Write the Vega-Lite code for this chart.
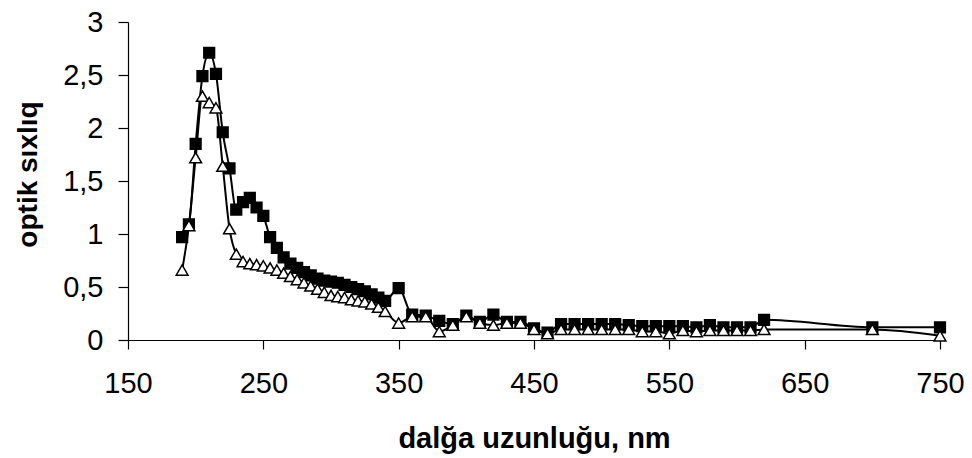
{
  "$schema": "https://vega.github.io/schema/vega-lite/v6.json",
  "width": 812,
  "height": 318,
  "autosize": {"type": "none"},
  "padding": {"left": 128, "top": 22, "right": 32, "bottom": 118},
  "background": "white",
  "config": {
    "view": {"stroke": null},
    "font": "Liberation Sans",
    "axis": {"grid": false, "domainColor": "black", "tickColor": "black", "labelColor": "black", "titleColor": "black", "domainWidth": 1.2, "tickWidth": 1.2}
  },
  "datasets": {
    "spectra": [
      {"nm":190,"series":"A","od":0.97},{"nm":195,"series":"A","od":1.09},{"nm":200,"series":"A","od":1.85},{"nm":205,"series":"A","od":2.49},{"nm":210,"series":"A","od":2.71},{"nm":215,"series":"A","od":2.51},{"nm":220,"series":"A","od":1.96},{"nm":225,"series":"A","od":1.62},{"nm":230,"series":"A","od":1.23},{"nm":235,"series":"A","od":1.30},{"nm":240,"series":"A","od":1.34},{"nm":245,"series":"A","od":1.25},{"nm":250,"series":"A","od":1.17},{"nm":255,"series":"A","od":0.97},{"nm":260,"series":"A","od":0.87},{"nm":265,"series":"A","od":0.78},{"nm":270,"series":"A","od":0.72},{"nm":275,"series":"A","od":0.68},{"nm":280,"series":"A","od":0.64},{"nm":285,"series":"A","od":0.61},{"nm":290,"series":"A","od":0.58},{"nm":295,"series":"A","od":0.56},{"nm":300,"series":"A","od":0.55},{"nm":305,"series":"A","od":0.54},{"nm":310,"series":"A","od":0.52},{"nm":315,"series":"A","od":0.50},{"nm":320,"series":"A","od":0.48},{"nm":325,"series":"A","od":0.46},{"nm":330,"series":"A","od":0.43},{"nm":335,"series":"A","od":0.40},{"nm":340,"series":"A","od":0.37},{"nm":350,"series":"A","od":0.49},{"nm":360,"series":"A","od":0.24},{"nm":370,"series":"A","od":0.23},{"nm":380,"series":"A","od":0.18},{"nm":390,"series":"A","od":0.15},{"nm":400,"series":"A","od":0.23},{"nm":410,"series":"A","od":0.17},{"nm":420,"series":"A","od":0.24},{"nm":430,"series":"A","od":0.17},{"nm":440,"series":"A","od":0.17},{"nm":450,"series":"A","od":0.11},{"nm":460,"series":"A","od":0.07},{"nm":470,"series":"A","od":0.15},{"nm":480,"series":"A","od":0.15},{"nm":490,"series":"A","od":0.15},{"nm":500,"series":"A","od":0.15},{"nm":510,"series":"A","od":0.15},{"nm":520,"series":"A","od":0.14},{"nm":530,"series":"A","od":0.13},{"nm":540,"series":"A","od":0.13},{"nm":550,"series":"A","od":0.13},{"nm":560,"series":"A","od":0.13},{"nm":570,"series":"A","od":0.12},{"nm":580,"series":"A","od":0.14},{"nm":590,"series":"A","od":0.12},{"nm":600,"series":"A","od":0.12},{"nm":610,"series":"A","od":0.12},{"nm":620,"series":"A","od":0.19},{"nm":700,"series":"A","od":0.12},{"nm":750,"series":"A","od":0.12},
      {"nm":190,"series":"B","od":0.66},{"nm":195,"series":"B","od":1.08},{"nm":200,"series":"B","od":1.72},{"nm":205,"series":"B","od":2.30},{"nm":210,"series":"B","od":2.24},{"nm":215,"series":"B","od":2.19},{"nm":220,"series":"B","od":1.64},{"nm":225,"series":"B","od":1.05},{"nm":230,"series":"B","od":0.81},{"nm":235,"series":"B","od":0.74},{"nm":240,"series":"B","od":0.72},{"nm":245,"series":"B","od":0.71},{"nm":250,"series":"B","od":0.70},{"nm":255,"series":"B","od":0.68},{"nm":260,"series":"B","od":0.66},{"nm":265,"series":"B","od":0.63},{"nm":270,"series":"B","od":0.60},{"nm":275,"series":"B","od":0.57},{"nm":280,"series":"B","od":0.54},{"nm":285,"series":"B","od":0.51},{"nm":290,"series":"B","od":0.48},{"nm":295,"series":"B","od":0.45},{"nm":300,"series":"B","od":0.42},{"nm":305,"series":"B","od":0.41},{"nm":310,"series":"B","od":0.40},{"nm":315,"series":"B","od":0.38},{"nm":320,"series":"B","od":0.37},{"nm":325,"series":"B","od":0.36},{"nm":330,"series":"B","od":0.34},{"nm":335,"series":"B","od":0.31},{"nm":340,"series":"B","od":0.27},{"nm":350,"series":"B","od":0.16},{"nm":360,"series":"B","od":0.22},{"nm":370,"series":"B","od":0.22},{"nm":380,"series":"B","od":0.08},{"nm":390,"series":"B","od":0.14},{"nm":400,"series":"B","od":0.22},{"nm":410,"series":"B","od":0.16},{"nm":420,"series":"B","od":0.14},{"nm":430,"series":"B","od":0.16},{"nm":440,"series":"B","od":0.16},{"nm":450,"series":"B","od":0.10},{"nm":460,"series":"B","od":0.06},{"nm":470,"series":"B","od":0.10},{"nm":480,"series":"B","od":0.10},{"nm":490,"series":"B","od":0.10},{"nm":500,"series":"B","od":0.10},{"nm":510,"series":"B","od":0.10},{"nm":520,"series":"B","od":0.10},{"nm":530,"series":"B","od":0.08},{"nm":540,"series":"B","od":0.08},{"nm":550,"series":"B","od":0.06},{"nm":560,"series":"B","od":0.09},{"nm":570,"series":"B","od":0.08},{"nm":580,"series":"B","od":0.09},{"nm":590,"series":"B","od":0.09},{"nm":600,"series":"B","od":0.09},{"nm":610,"series":"B","od":0.09},{"nm":620,"series":"B","od":0.10},{"nm":700,"series":"B","od":0.10},{"nm":750,"series":"B","od":0.04}
    ]
  },
  "data": {"name": "spectra"},
  "encoding": {
    "x": {
      "field": "nm", "type": "quantitative",
      "scale": {"domain": [150, 750], "nice": false, "zero": false},
      "axis": {"values": [150, 250, 350, 450, 550, 650, 750], "title": "dalğa uzunluğu, nm", "titleFontSize": 29, "titleFontWeight": "bold", "labelFontSize": 29, "labelFontWeight": "normal", "tickSize": 9, "labelPadding": 20, "titlePadding": 26, "labelFlush": false}
    },
    "y": {
      "field": "od", "type": "quantitative",
      "scale": {"domain": [0, 3], "nice": false},
      "axis": {"values": [0, 0.5, 1, 1.5, 2, 2.5, 3], "labelExpr": "replace(toString(datum.value), '.', ',')", "title": "optik sıxlıq", "titleFontSize": 28, "titleFontWeight": "bold", "labelFontSize": 29, "tickSize": 10, "labelPadding": 15, "titleX": -100, "titleY": 152, "titleBaseline": "middle", "titleAngle": -90, "labelFlush": false}
    }
  },
  "layer": [
    {
      "mark": {"type": "line", "color": "black", "strokeWidth": 2, "interpolate": "monotone"},
      "encoding": {"detail": {"field": "series"}}
    },
    {
      "mark": {"type": "point", "filled": true, "stroke": "black", "strokeWidth": 1.5, "opacity": 1},
      "encoding": {
        "shape": {"field": "series", "type": "nominal", "scale": {"domain": ["A", "B"], "range": ["square", "triangle-up"]}, "legend": null},
        "fill": {"field": "series", "type": "nominal", "scale": {"domain": ["A", "B"], "range": ["black", "white"]}, "legend": null},
        "size": {"field": "series", "type": "nominal", "scale": {"domain": ["A", "B"], "range": [115, 140]}, "legend": null}
      }
    }
  ]
}
